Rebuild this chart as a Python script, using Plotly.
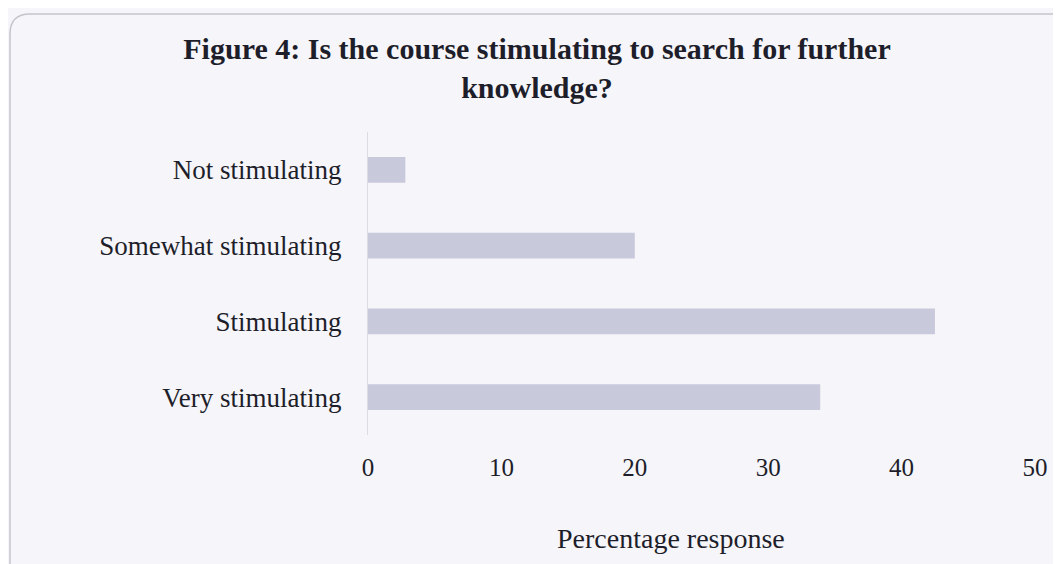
import plotly.graph_objects as go

# survey responses, top to bottom as drawn
categories = ["Not stimulating", "Somewhat stimulating", "Stimulating", "Very stimulating"]
percentages = [2.8, 20.0, 42.5, 33.9]
tick_values = [0, 10, 20, 30, 40, 50]

# the page body adds an 8px offset, so the figure is drawn 8px smaller
W, H = 1053, 556
left, right, top, bottom = 360, 26, 124, 129

fig = go.Figure()

fig.add_trace(go.Bar(
    x=percentages,
    y=categories,
    orientation="h",
    width=0.34,
    marker={"color": "#c9c9dc", "line": {"width": 0}},
    hoverinfo="x+y",
))

# rounded page border, in paper coords
pw = W - left - right
ph = H - top - bottom
def px(x):
    return (x - left) / pw
def py(y):
    return (H - bottom - y) / ph

r = 20
path = (f"M {px(2)},{py(600)} L {px(2)},{py(6 + r)} "
        f"Q {px(2)},{py(6)} {px(2 + r)},{py(6)} L {px(1100)},{py(6)}")

fig.update_layout(
    width=W, height=H,
    margin={"l": left, "r": right, "t": top, "b": bottom},
    paper_bgcolor="#f5f5fa",
    plot_bgcolor="#f5f5fa",
    showlegend=False,
    font={"family": "Liberation Serif, Times New Roman, serif", "color": "#1e1e2a", "size": 27},
    title={
        "text": "<b>Figure 4: Is the course stimulating to search for further<br>knowledge?</b>",
        "x": 529 / W, "xref": "container", "xanchor": "center",
        "y": 1 - 51 / H, "yanchor": "top",
        "font": {"size": 30, "family": "Liberation Serif, serif", "color": "#1e1e2a"},
    },
    xaxis={
        "range": [0, 50],
        "tickvals": tick_values,
        "showgrid": False,
        "zeroline": False,
        "showline": False,
        "ticks": "",
        "ticklabelstandoff": 15,
        "tickfont": {"size": 25},
        "fixedrange": True,
    },
    yaxis={
        "autorange": "reversed",
        "showgrid": False,
        "zeroline": False,
        "showline": True,
        "linecolor": "#dcdce4",
        "linewidth": 1,
        "ticks": "",
        "ticklabelstandoff": 20,
        "tickfont": {"size": 27},
        "fixedrange": True,
    },
    annotations=[{
        "text": "Percentage response",
        "xref": "paper", "yref": "paper",
        "x": px(663), "y": py(530),
        "xanchor": "center", "yanchor": "middle",
        "showarrow": False,
        "font": {"size": 28},
    }],
    shapes=[{
        "type": "path", "path": path, "xref": "paper", "yref": "paper",
        "line": {"color": "#c4c4cc", "width": 1.5},
    }],
)

fig.write_html("out.html")
